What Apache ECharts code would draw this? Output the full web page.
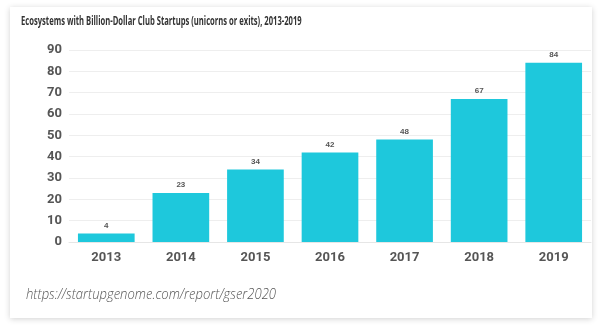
<!DOCTYPE html>
<html><head><meta charset="utf-8">
<script src="https://cdn.jsdelivr.net/npm/echarts@6/dist/echarts.min.js"></script>
<style>
html,body{margin:0;padding:0;background:#fff;}
#card{position:absolute;left:10px;top:7px;width:582px;height:311px;background:#fff;box-shadow:0 1px 6px rgba(0,0,0,0.18);}
#c{position:absolute;left:0;top:0;width:605px;height:330px;}
</style></head>
<body>
<div id="card"></div>
<div id="c"></div>
<script>
const titleText = 'Ecosystems with Billion-Dollar Club Startups (unicorns or exits), 2013-2019';
const sourceText = 'https://startupgenome.com/report/gser2020';
const years = ['2013','2014','2015','2016','2017','2018','2019'];
const values = [4, 23, 34, 42, 48, 67, 84];
const yTicks = [0, 90, 10];

const chart = echarts.init(document.getElementById('c'), null, {renderer:'canvas'});
chart.setOption({
  backgroundColor: 'transparent',
  animation: false,
  graphic: [{
    type: 'text', x: 21, y: 15, scaleX: 0.61,
    style: {text: titleText, font: 'bold 12.5px "Open Sans", sans-serif', fill: '#333'}
  }, {
    type: 'text', x: 26, y: 287, scaleX: 0.87,
    style: {text: sourceText, font: 'italic 300 15px "Open Sans", sans-serif', fill: '#555'}
  }],
  grid: {left: 69, right: 14, top: 50, bottom: 88, containLabel: false},
  xAxis: {
    type: 'category', data: years,
    axisLine: {show: true, lineStyle: {color: '#e6e6e6'}},
    axisTick: {show: false},
    axisLabel: {fontSize: 13, fontWeight: 'bold', color: '#555', margin: 9, fontFamily: 'Roboto, sans-serif'}
  },
  yAxis: {
    type: 'value', min: yTicks[0], max: yTicks[1], interval: yTicks[2],
    axisLine: {show: false}, axisTick: {show: false},
    splitLine: {lineStyle: {color: '#eeeeee'}},
    axisLabel: {fontSize: 13, fontWeight: 'bold', color: '#555', margin: 7, fontFamily: 'Roboto, sans-serif'}
  },
  series: [{
    type: 'bar', data: values, barCategoryGap: '24%',
    itemStyle: {color: '#1ec8dc'},
    label: {show: true, position: 'top', fontSize: 8, color: '#555', distance: 4, fontWeight: 'bold'}
  }]
});
</script>
</body></html>
